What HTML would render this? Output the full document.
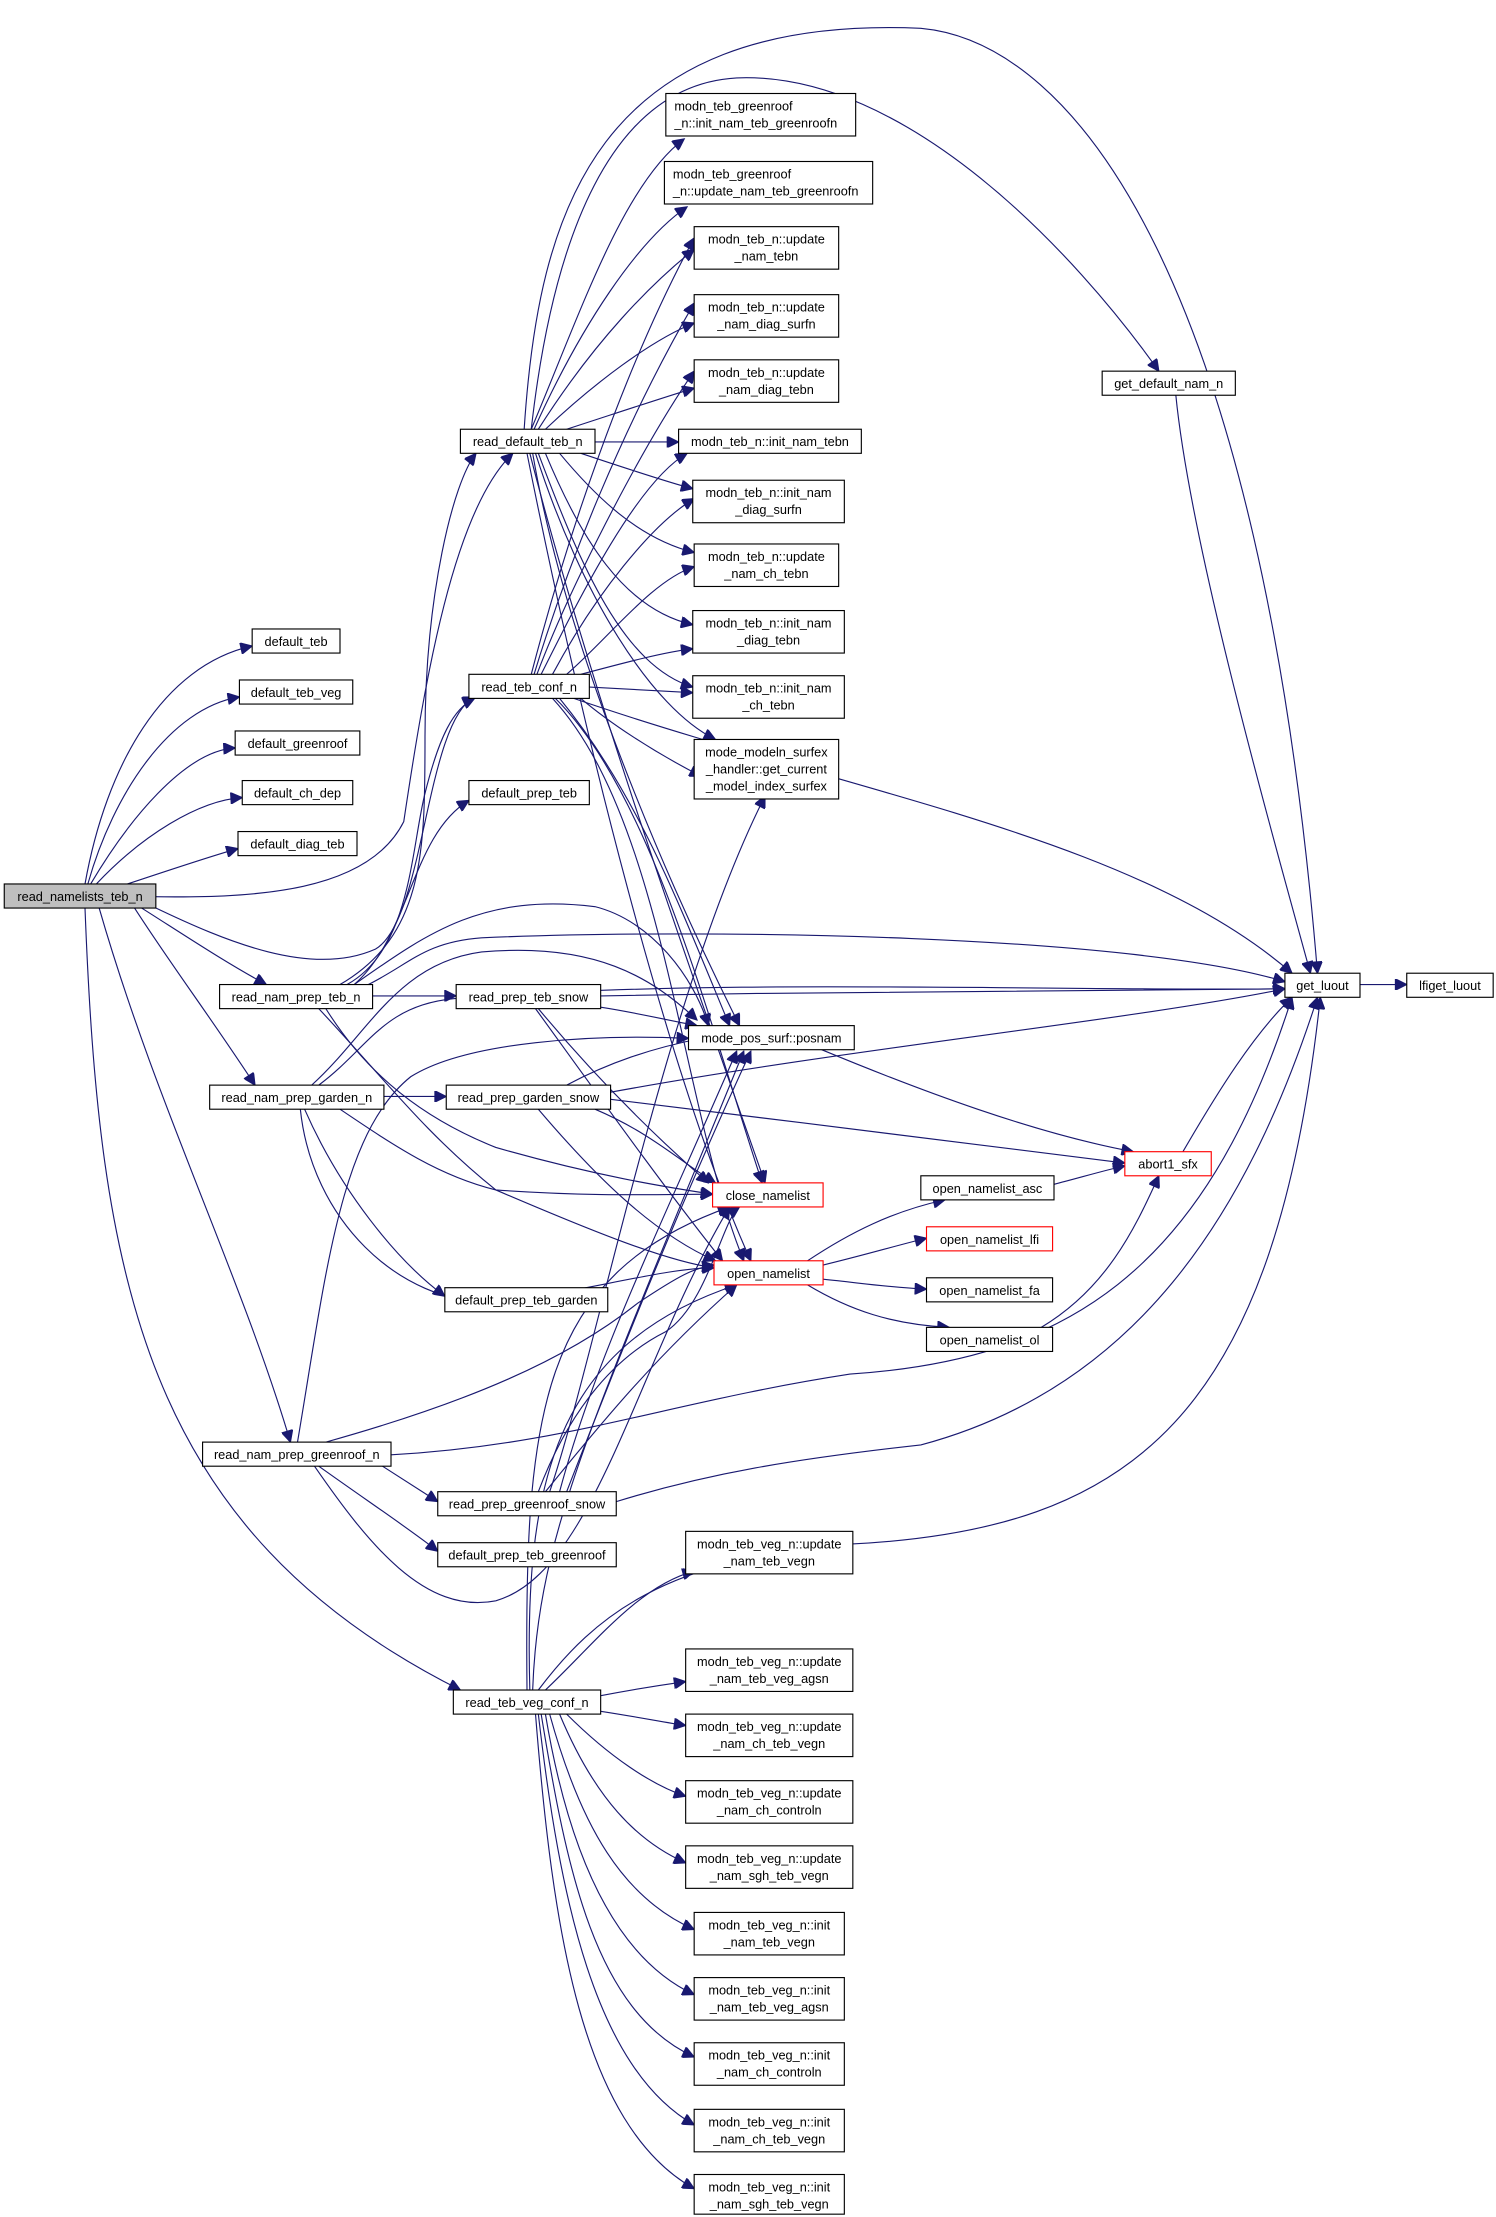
<!DOCTYPE html>
<html><head><meta charset="utf-8"><style>
html,body{margin:0;padding:0;background:#fff;}
svg{display:block;}
text{font-family:"Liberation Sans",sans-serif;font-size:9px;fill:#000;}
.b{fill:#fff;stroke:#000;stroke-width:0.8;}
.r{fill:#fff;stroke:#ff0000;stroke-width:0.8;}
.g{fill:#bfbfbf;stroke:#000;stroke-width:0.8;}
.e{fill:none;stroke:#191970;stroke-width:0.8;}
</style></head><body>
<svg width="1496" height="2217" viewBox="0 0 1056 1565" preserveAspectRatio="none" xmlns="http://www.w3.org/2000/svg">
<defs><marker id="a" viewBox="0 0 10 10" refX="10" refY="5" markerWidth="10" markerHeight="8" markerUnits="userSpaceOnUse" orient="auto"><path d="M0,0L10,5L0,10z" fill="#191970" stroke="#191970"/></marker></defs>
<g marker-end="url(#a)">
<path class="e" d="M60,624 C75,540 115,470 178,456"/>
<path class="e" d="M62,624 C80,560 120,500 169,492"/>
<path class="e" d="M64,624 C90,580 130,530 166,528"/>
<path class="e" d="M68,624 C100,590 140,565 171,563"/>
<path class="e" d="M90,624 C120,614 150,604 168,599"/>
<path class="e" d="M108,633 C180,634 260,630 285,580 C300,480 320,360 362,320"/>
<path class="e" d="M108,640 C160,665 220,690 265,670 C300,650 300,510 335,492"/>
<path class="e" d="M100,641 C130,660 160,680 188,695"/>
<path class="e" d="M95,641 C120,680 150,720 180,766"/>
<path class="e" d="M70,641 C110,780 170,900 205,1018"/>
<path class="e" d="M60,641 C70,900 100,1080 325,1193"/>
<path class="e" d="M370,303 C380,150 420,10 650,20 C760,30 890,200 930,687"/>
<path class="e" d="M375,303 C390,170 430,60 520,55 C640,50 760,180 818,262"/>
<path class="e" d="M375,303 C410,220 440,130 483,98"/>
<path class="e" d="M377,303 C410,230 450,170 485,146"/>
<path class="e" d="M380,303 C420,240 460,200 490,176"/>
<path class="e" d="M385,303 C420,270 460,240 490,228"/>
<path class="e" d="M400,303 C440,290 470,280 490,274"/>
<path class="e" d="M420,312 L479,312"/>
<path class="e" d="M410,320 C440,330 470,340 489,345"/>
<path class="e" d="M395,320 C420,350 450,380 490,390"/>
<path class="e" d="M385,320 C410,380 440,430 489,441"/>
<path class="e" d="M380,320 C410,400 440,470 489,485"/>
<path class="e" d="M378,320 C410,420 460,500 505,522"/>
<path class="e" d="M376,320 C400,460 470,620 522,724"/>
<path class="e" d="M374,320 C420,500 500,720 540,835"/>
<path class="e" d="M372,320 C420,560 480,780 530,890"/>
<path class="e" d="M375,476 C400,380 440,260 490,168"/>
<path class="e" d="M377,476 C400,400 440,300 490,214"/>
<path class="e" d="M379,476 C400,420 450,320 490,262"/>
<path class="e" d="M382,476 C410,420 450,340 485,320"/>
<path class="e" d="M390,476 C420,420 460,370 490,352"/>
<path class="e" d="M400,476 C430,450 460,410 490,400"/>
<path class="e" d="M410,476 C440,468 470,460 489,458"/>
<path class="e" d="M416,485 L489,489"/>
<path class="e" d="M410,493 C430,510 460,530 495,548"/>
<path class="e" d="M405,493 C600,560 800,590 912,687"/>
<path class="e" d="M395,493 C450,560 480,640 515,724"/>
<path class="e" d="M392,493 C460,560 500,720 538,835"/>
<path class="e" d="M390,493 C470,580 480,780 525,890"/>
<path class="e" d="M240,695 C300,660 300,600 300,520 C300,420 320,340 336,320"/>
<path class="e" d="M245,695 C290,670 290,600 300,560 C310,520 320,500 335,493"/>
<path class="e" d="M250,695 C290,660 290,590 331,565"/>
<path class="e" d="M263,703 L322,703"/>
<path class="e" d="M250,695 C300,660 340,630 420,640 C460,650 490,690 500,724"/>
<path class="e" d="M260,695 C290,680 300,665 340,662 C500,655 800,660 907,693"/>
<path class="e" d="M230,712 C260,760 300,790 350,810 C420,830 470,838 503,843"/>
<path class="e" d="M225,712 C270,760 300,800 350,840 C420,870 470,890 504,895"/>
<path class="e" d="M424,703 C600,700 800,698 907,698"/>
<path class="e" d="M424,711 C450,715 470,720 492,724"/>
<path class="e" d="M380,712 C420,760 460,800 500,835"/>
<path class="e" d="M378,712 C420,770 470,840 510,890"/>
<path class="e" d="M220,766 C260,730 280,680 340,672 C420,665 460,690 492,720"/>
<path class="e" d="M225,766 C260,740 270,710 320,705 C500,690 750,700 907,698"/>
<path class="e" d="M271,774 L315,774"/>
<path class="e" d="M215,783 C240,840 280,890 314,915"/>
<path class="e" d="M240,783 C280,810 310,830 350,840 C420,845 470,843 503,843"/>
<path class="e" d="M212,783 C220,860 280,920 350,920 C420,910 470,895 504,895"/>
<path class="e" d="M400,766 C430,750 460,740 495,733"/>
<path class="e" d="M431,771 C600,740 800,720 907,698"/>
<path class="e" d="M431,776 C550,790 700,810 794,821"/>
<path class="e" d="M420,783 C460,800 480,820 505,835"/>
<path class="e" d="M380,783 C420,830 460,870 505,890"/>
<path class="e" d="M210,1018 C230,900 240,800 290,760 C330,735 420,730 486,733"/>
<path class="e" d="M230,1018 C330,990 400,960 450,920 C480,900 490,895 504,893"/>
<path class="e" d="M276,1027 C400,1020 470,990 600,970 C750,960 850,900 912,704"/>
<path class="e" d="M270,1035 L309,1060"/>
<path class="e" d="M225,1035 C260,1060 290,1080 309,1095"/>
<path class="e" d="M222,1035 C260,1090 300,1140 350,1130 C420,1110 450,960 515,852"/>
<path class="e" d="M395,1053 C420,960 460,880 520,742"/>
<path class="e" d="M400,1053 C440,950 480,850 530,742"/>
<path class="e" d="M380,1053 C400,1000 430,960 470,940 C500,920 510,860 522,852"/>
<path class="e" d="M385,1053 C420,1010 460,960 520,907"/>
<path class="e" d="M388,1053 C420,960 470,700 540,562"/>
<path class="e" d="M435,1060 C500,1040 560,1030 650,1020 C800,980 880,860 930,704"/>
<path class="e" d="M372,1193 C370,1000 380,900 515,852"/>
<path class="e" d="M374,1193 C370,1050 390,950 520,907"/>
<path class="e" d="M376,1193 C380,1080 420,1000 525,742"/>
<path class="e" d="M380,1193 C420,1140 470,1100 600,1090 C800,1080 900,1000 932,704"/>
<path class="e" d="M385,1193 C420,1160 450,1120 490,1109"/>
<path class="e" d="M424,1197 C450,1192 470,1189 484,1187"/>
<path class="e" d="M424,1208 C450,1212 470,1216 484,1218"/>
<path class="e" d="M400,1210 C430,1240 460,1260 484,1268"/>
<path class="e" d="M395,1210 C420,1270 450,1300 484,1315"/>
<path class="e" d="M388,1210 C410,1290 440,1340 490,1362"/>
<path class="e" d="M385,1210 C400,1300 430,1380 490,1408"/>
<path class="e" d="M382,1210 C400,1320 420,1420 490,1452"/>
<path class="e" d="M380,1210 C395,1340 420,1460 490,1500"/>
<path class="e" d="M378,1210 C390,1360 410,1500 490,1545"/>
<path class="e" d="M580,741 C650,770 730,800 800,813"/>
<path class="e" d="M570,890 C600,870 630,855 667,847"/>
<path class="e" d="M581,893 C610,886 630,880 654,874"/>
<path class="e" d="M581,903 C610,906 630,909 654,910"/>
<path class="e" d="M570,907 C600,925 630,935 670,937"/>
<path class="e" d="M744,836 C760,832 780,826 794,823"/>
<path class="e" d="M735,937 C780,910 800,870 818,830"/>
<path class="e" d="M835,813 C860,770 885,730 912,704"/>
<path class="e" d="M830,279 C840,380 890,560 925,687"/>
<path class="e" d="M960,695 L993,695"/>
</g>
<rect class="g" x="3" y="624" width="107" height="17"/><text x="56.5" y="636" text-anchor="middle">read_namelists_teb_n</text>
<g text-anchor="middle">
<rect class="b" x="178" y="444" width="62" height="17"/><text x="209" y="456">default_teb</text>
<rect class="b" x="169" y="480" width="80" height="17"/><text x="209" y="492">default_teb_veg</text>
<rect class="b" x="166" y="516" width="88" height="17"/><text x="210" y="528">default_greenroof</text>
<rect class="b" x="171" y="551" width="78" height="17"/><text x="210" y="563">default_ch_dep</text>
<rect class="b" x="168" y="587" width="84" height="17"/><text x="210" y="599">default_diag_teb</text>
<rect class="b" x="155" y="695" width="108" height="17"/><text x="209" y="707">read_nam_prep_teb_n</text>
<rect class="b" x="148" y="766" width="123" height="17"/><text x="209.5" y="778">read_nam_prep_garden_n</text>
<rect class="b" x="143" y="1018" width="133" height="17"/><text x="209.5" y="1030">read_nam_prep_greenroof_n</text>
<rect class="b" x="325" y="303" width="95" height="17"/><text x="372.5" y="315">read_default_teb_n</text>
<rect class="b" x="331" y="476" width="85" height="17"/><text x="373.5" y="488">read_teb_conf_n</text>
<rect class="b" x="331" y="551" width="85" height="17"/><text x="373.5" y="563">default_prep_teb</text>
<rect class="b" x="322" y="695" width="102" height="17"/><text x="373" y="707">read_prep_teb_snow</text>
<rect class="b" x="315" y="766" width="116" height="17"/><text x="373" y="778">read_prep_garden_snow</text>
<rect class="b" x="314" y="909" width="115" height="17"/><text x="371.5" y="921">default_prep_teb_garden</text>
<rect class="b" x="309" y="1053" width="126" height="17"/><text x="372" y="1065">read_prep_greenroof_snow</text>
<rect class="b" x="309" y="1089" width="126" height="17"/><text x="372" y="1101">default_prep_teb_greenroof</text>
<rect class="b" x="320" y="1193" width="104" height="17"/><text x="372" y="1205">read_teb_veg_conf_n</text>
<rect class="b" x="479" y="303" width="129" height="17"/><text x="543.5" y="315">modn_teb_n::init_nam_tebn</text>
<rect class="b" x="486" y="724" width="117" height="17"/><text x="544.5" y="736">mode_pos_surf::posnam</text>
<rect class="r" x="503" y="835" width="78" height="17"/><text x="542" y="847">close_namelist</text>
<rect class="r" x="504" y="890" width="77" height="17"/><text x="542.5" y="902">open_namelist</text>
<rect class="b" x="650" y="830" width="94" height="17"/><text x="697" y="842">open_namelist_asc</text>
<rect class="r" x="654" y="866" width="89" height="17"/><text x="698.5" y="878">open_namelist_lfi</text>
<rect class="b" x="654" y="902" width="89" height="17"/><text x="698.5" y="914">open_namelist_fa</text>
<rect class="b" x="654" y="937" width="89" height="17"/><text x="698.5" y="949">open_namelist_ol</text>
<rect class="b" x="778" y="262" width="94" height="17"/><text x="825" y="274">get_default_nam_n</text>
<rect class="r" x="794" y="813" width="61" height="17"/><text x="824.5" y="825">abort1_sfx</text>
<rect class="b" x="907" y="687" width="53" height="17"/><text x="933.5" y="699">get_luout</text>
<rect class="b" x="993" y="687" width="61" height="17"/><text x="1023.5" y="699">lfiget_luout</text>
<rect class="b" x="490" y="160" width="102" height="30"/><text x="541" y="172">modn_teb_n::update</text><text x="541" y="184">_nam_tebn</text>
<rect class="b" x="490" y="208" width="102" height="30"/><text x="541" y="220">modn_teb_n::update</text><text x="541" y="232">_nam_diag_surfn</text>
<rect class="b" x="490" y="254" width="102" height="30"/><text x="541" y="266">modn_teb_n::update</text><text x="541" y="278">_nam_diag_tebn</text>
<rect class="b" x="489" y="339" width="107" height="30"/><text x="542.5" y="351">modn_teb_n::init_nam</text><text x="542.5" y="363">_diag_surfn</text>
<rect class="b" x="490" y="384" width="102" height="30"/><text x="541" y="396">modn_teb_n::update</text><text x="541" y="408">_nam_ch_tebn</text>
<rect class="b" x="489" y="431" width="107" height="30"/><text x="542.5" y="443">modn_teb_n::init_nam</text><text x="542.5" y="455">_diag_tebn</text>
<rect class="b" x="489" y="477" width="107" height="30"/><text x="542.5" y="489">modn_teb_n::init_nam</text><text x="542.5" y="501">_ch_tebn</text>
<rect class="b" x="490" y="522" width="102" height="42"/><text x="541" y="534">mode_modeln_surfex</text><text x="541" y="546">_handler::get_current</text><text x="541" y="558">_model_index_surfex</text>
<rect class="b" x="484" y="1081" width="118" height="30"/><text x="543" y="1093">modn_teb_veg_n::update</text><text x="543" y="1105">_nam_teb_vegn</text>
<rect class="b" x="484" y="1164" width="118" height="30"/><text x="543" y="1176">modn_teb_veg_n::update</text><text x="543" y="1188">_nam_teb_veg_agsn</text>
<rect class="b" x="484" y="1210" width="118" height="30"/><text x="543" y="1222">modn_teb_veg_n::update</text><text x="543" y="1234">_nam_ch_teb_vegn</text>
<rect class="b" x="484" y="1257" width="118" height="30"/><text x="543" y="1269">modn_teb_veg_n::update</text><text x="543" y="1281">_nam_ch_controln</text>
<rect class="b" x="484" y="1303" width="118" height="30"/><text x="543" y="1315">modn_teb_veg_n::update</text><text x="543" y="1327">_nam_sgh_teb_vegn</text>
<rect class="b" x="490" y="1350" width="106" height="30"/><text x="543" y="1362">modn_teb_veg_n::init</text><text x="543" y="1374">_nam_teb_vegn</text>
<rect class="b" x="490" y="1396" width="106" height="30"/><text x="543" y="1408">modn_teb_veg_n::init</text><text x="543" y="1420">_nam_teb_veg_agsn</text>
<rect class="b" x="490" y="1442" width="106" height="30"/><text x="543" y="1454">modn_teb_veg_n::init</text><text x="543" y="1466">_nam_ch_controln</text>
<rect class="b" x="490" y="1489" width="106" height="30"/><text x="543" y="1501">modn_teb_veg_n::init</text><text x="543" y="1513">_nam_ch_teb_vegn</text>
<rect class="b" x="490" y="1535" width="106" height="28"/><text x="543" y="1547">modn_teb_veg_n::init</text><text x="543" y="1559">_nam_sgh_teb_vegn</text>
</g>
<rect class="b" x="470" y="66" width="134" height="30"/><text x="476" y="78">modn_teb_greenroof</text><text x="476" y="90">_n::init_nam_teb_greenroofn</text>
<rect class="b" x="469" y="114" width="147" height="30"/><text x="475" y="126">modn_teb_greenroof</text><text x="475" y="138">_n::update_nam_teb_greenroofn</text>
</svg>
</body></html>
